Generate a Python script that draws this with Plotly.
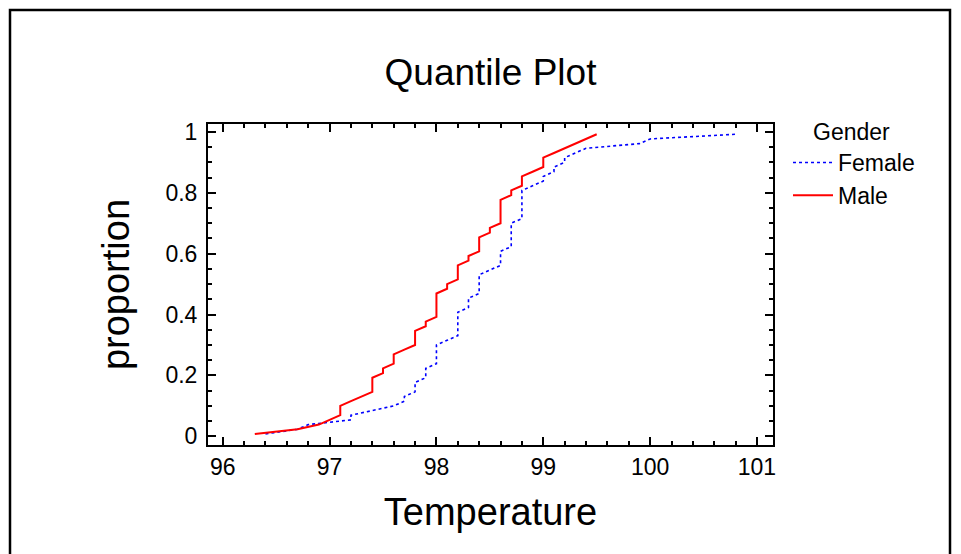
import plotly.graph_objects as go

# Body temperature (deg F), sorted, by gender
female_temp = [96.4, 96.7, 96.8, 97.2, 97.2, 97.4, 97.6, 97.7, 97.7, 97.8,
               97.8, 97.8, 97.9, 97.9, 97.9, 98.0, 98.0, 98.0, 98.0, 98.0,
               98.1, 98.2, 98.2, 98.2, 98.2, 98.2, 98.2, 98.3, 98.3, 98.3,
               98.4, 98.4, 98.4, 98.4, 98.4, 98.5, 98.6, 98.6, 98.6, 98.6,
               98.7, 98.7, 98.7, 98.7, 98.7, 98.7, 98.8, 98.8, 98.8, 98.8,
               98.8, 98.8, 98.8, 98.9, 99.0, 99.0, 99.1, 99.1, 99.2, 99.2,
               99.3, 99.4, 99.9, 100.0, 100.8]
male_temp = [96.3, 96.7, 96.9, 97.0, 97.1, 97.1, 97.1, 97.2, 97.3, 97.4,
             97.4, 97.4, 97.4, 97.5, 97.5, 97.6, 97.6, 97.6, 97.7, 97.8,
             97.8, 97.8, 97.8, 97.9, 97.9, 98.0, 98.0, 98.0, 98.0, 98.0,
             98.0, 98.1, 98.1, 98.2, 98.2, 98.2, 98.2, 98.3, 98.3, 98.4,
             98.4, 98.4, 98.4, 98.5, 98.5, 98.6, 98.6, 98.6, 98.6, 98.6,
             98.6, 98.7, 98.7, 98.8, 98.8, 98.8, 98.9, 99.0, 99.0, 99.0,
             99.1, 99.2, 99.3, 99.4, 99.5]
series_names = ["Female", "Male"]
x_ticks = [96, 97, 98, 99, 100, 101]
y_ticks = [0, 0.2, 0.4, 0.6, 0.8, 1]


def proportions(vals):
    n = len(vals)
    return [(i + 0.5) / n for i in range(n)]


FONT = "Arial, 'Liberation Sans', sans-serif"

fig = go.Figure()
fig.add_trace(go.Scatter(
    x=sorted(female_temp), y=proportions(female_temp), name=series_names[0],
    mode="lines", line=dict(color="#0000FF", width=1.6, dash="dot"),
))
fig.add_trace(go.Scatter(
    x=sorted(male_temp), y=proportions(male_temp), name=series_names[1],
    mode="lines", line=dict(color="#FF0000", width=2),
))

# page offset (body margin) and plot-area pixel geometry in page coords
OFF = 8
L, R, T, B = 208, 773, 124, 445
W, H = 961 - OFF, 554 - OFF


def px(xp):
    return (xp - L) / (R - L)


def py(yp):
    return (B - yp) / (B - T)


axis_common = dict(
    showline=True, linecolor="black", linewidth=2, mirror="allticks",
    ticks="inside", ticklen=8, tickwidth=1.5, tickcolor="black",
    showgrid=False, zeroline=False,
    tickfont=dict(family=FONT, size=23, color="black"),
)

fig.update_xaxes(
    range=[95.862, 101.15], tickvals=x_ticks,
    minor=dict(dtick=0.2, ticks="inside", ticklen=4, tickwidth=1.5, tickcolor="black"),
    title=dict(text="Temperature", font=dict(family=FONT, size=38, color="black"), standoff=20),
    **axis_common,
)
fig.update_yaxes(
    range=[-0.0286, 1.026], tickvals=y_ticks, ticklabelstandoff=4,
    minor=dict(dtick=0.05, ticks="inside", ticklen=4, tickwidth=1.5, tickcolor="black"),
    title=dict(text="proportion", font=dict(family=FONT, size=38, color="black"), standoff=24),
    **axis_common,
)

fig.update_layout(
    width=W, height=H,
    margin=dict(l=L - OFF, r=961 - R, t=T - OFF, b=554 - B, autoexpand=False),
    paper_bgcolor="white", plot_bgcolor="white",
    title=dict(text="Quantile Plot", x=0.5, xref="paper", xanchor="center",
               y=1 - (72 - OFF) / H, yref="container", yanchor="middle",
               font=dict(family=FONT, size=37, color="black")),
    showlegend=True,
    legend=dict(x=px(788), xanchor="left", y=py(141), yanchor="top",
                font=dict(family=FONT, size=23, color="black"),
                bgcolor="rgba(0,0,0,0)", borderwidth=0, itemwidth=40,
                tracegroupgap=0),
    annotations=[dict(text="Gender", x=px(811), y=py(132), xref="paper", yref="paper",
                      xanchor="left", yanchor="middle", showarrow=False,
                      font=dict(family=FONT, size=23, color="black"))],
    shapes=[dict(type="rect", xref="paper", yref="paper",
                 x0=px(10), x1=px(950), y0=py(580), y1=py(10),
                 line=dict(color="black", width=2.5), fillcolor="rgba(0,0,0,0)",
                 layer="above")],
)

fig.write_html("out.html")
